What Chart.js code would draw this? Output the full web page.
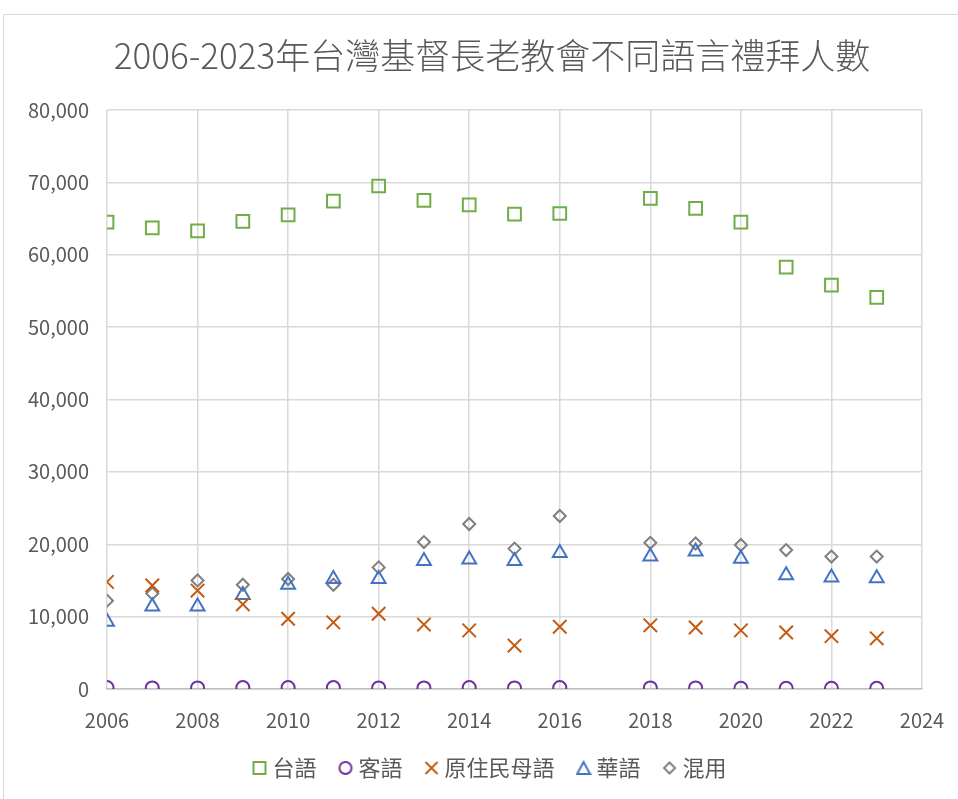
<!DOCTYPE html>
<html>
<head>
<meta charset="utf-8">
<script src="https://cdn.jsdelivr.net/npm/chart.js@4"></script>
<style>
  html, body { margin: 0; padding: 0; background: #fff; overflow: hidden; }
  #frame { position: absolute; left: 3px; top: 14px; width: 990px; height: 800px; border: 1px solid #d9d9d9; }
  #wrap { position: absolute; left: 0; top: 0; width: 984px; height: 799px; }
</style>
</head>
<body>
<div id="frame"></div>
<div id="wrap"><canvas id="chart"></canvas></div>
<script>
const years = [2006, 2007, 2008, 2009, 2010, 2011, 2012, 2013, 2014, 2015, 2016, 2018, 2019, 2020, 2021, 2022, 2023];
const taiwanese = [64500, 63700, 63300, 64600, 65500, 67400, 69500, 67500, 66900, 65600, 65700, 67800, 66400, 64500, 58300, 55800, 54100];
const hakka = [200, 150, 150, 200, 200, 200, 150, 150, 200, 150, 200, 150, 150, 100, 100, 100, 100];
const indigenous = [14800, 14300, 13600, 11700, 9700, 9200, 10400, 8900, 8100, 6000, 8600, 8800, 8500, 8100, 7800, 7300, 7000];
const mandarin = [9300, 11400, 11400, 13000, 14400, 15200, 15200, 17700, 17900, 17700, 18800, 18300, 19000, 18000, 15700, 15400, 15300];
const mixed = [12200, 13200, 15000, 14400, 15200, 14400, 16800, 20300, 22800, 19400, 23900, 20200, 20100, 19900, 19200, 18300, 18300];
const seriesNames = ["台語", "客語", "原住民母語", "華語", "混用"];
const yTicks = [0, 10000, 20000, 30000, 40000, 50000, 60000, 70000, 80000];

function pts(vals) {
  return years.map((y, i) => ({ x: y, y: vals[i] }));
}

const font = "'Noto Sans CJK TC', 'Noto Sans', sans-serif";
const textColor = "#595959";

// small marker pictures for the legend only
function legendIcon(style, color) {
  const c = document.createElement("canvas");
  c.width = 16; c.height = 16;
  const g = c.getContext("2d");
  g.strokeStyle = color;
  g.lineWidth = 2;
  g.beginPath();
  if (style === "rect") g.rect(2, 2, 12, 12);
  else if (style === "circle") g.arc(8, 8, 6, 0, Math.PI * 2);
  else if (style === "crossRot") { g.moveTo(2, 2); g.lineTo(14, 14); g.moveTo(14, 2); g.lineTo(2, 14); }
  else if (style === "triangle") { g.moveTo(8, 2); g.lineTo(14.5, 14); g.lineTo(1.5, 14); g.closePath(); }
  else if (style === "rectRot") { g.moveTo(8, 2.5); g.lineTo(13.5, 8); g.lineTo(8, 13.5); g.lineTo(2.5, 8); g.closePath(); }
  g.stroke();
  return c;
}

const ds = (label, vals, color, style, r) => ({
  label: label,
  data: pts(vals),
  pointStyle: style,
  pointRadius: r,
  pointHoverRadius: r,
  pointBorderWidth: 2,
  borderColor: color,
  backgroundColor: "rgba(0,0,0,0)",
  pointBackgroundColor: "rgba(0,0,0,0)",
  pointBorderColor: color,
  showLine: false,
  legendIcon: legendIcon(style, color)
});

const ctx = document.getElementById("chart").getContext("2d");
new Chart(ctx, {
  type: "scatter",
  data: {
    datasets: [
      ds(seriesNames[0], taiwanese, "#70ad47", "rect", 9),
      ds(seriesNames[1], hakka, "#7030a0", "circle", 6.5),
      ds(seriesNames[2], indigenous, "#c55a11", "crossRot", 9.5),
      ds(seriesNames[3], mandarin, "#4472c4", "triangle", 8),
      ds(seriesNames[4], mixed, "#7f7f7f", "rectRot", 6)
    ]
  },
  options: {
    responsive: true,
    maintainAspectRatio: false,
    animation: false,
    layout: { padding: { top: 14, right: 0, bottom: 10, left: 0 } },
    plugins: {
      title: {
        display: true,
        text: "2006-2023年台灣基督長老教會不同語言禮拜人數",
        color: textColor,
        font: { family: font, size: 35, weight: 300 },
        padding: { top: 21, bottom: 33 }
      },
      legend: {
        position: "bottom",
        labels: {
          usePointStyle: true,
          pointStyleWidth: 4,
          boxHeight: 12,
          padding: 27,
          color: textColor,
          font: { family: font, size: 22 },
          generateLabels: chart => chart.data.datasets.map((d, i) => ({
            text: d.label,
            pointStyle: d.legendIcon,
            fontColor: textColor,
            strokeStyle: d.borderColor,
            fillStyle: "rgba(0,0,0,0)",
            lineWidth: 0,
            hidden: false,
            datasetIndex: i
          }))
        }
      },
      tooltip: { enabled: false }
    },
    scales: {
      x: {
        type: "linear",
        min: 2006,
        max: 2024,
        afterFit: s => { s.height = 41; },
        ticks: {
          stepSize: 2,
          color: textColor,
          padding: 19,
          font: { family: font, size: 20 },
          callback: v => String(v)
        },
        grid: { color: "#d9d9d9", lineWidth: 1.5, drawTicks: false },
        border: { color: "#bfbfbf", width: 1.5 }
      },
      y: {
        min: 0,
        max: 80000,
        afterBuildTicks: s => { s.ticks = yTicks.map(v => ({ value: v })); },
        afterFit: s => { s.width = 107; },
        ticks: {
          color: textColor,
          padding: 18,
          font: { family: font, size: 20 },
          callback: v => v.toLocaleString("en-US")
        },
        grid: { color: "#d9d9d9", lineWidth: 1.5, drawTicks: false },
        border: { display: false }
      },
      // empty axis that only keeps the space on the right of the plot
      yRight: {
        position: "right",
        afterFit: s => { s.width = 62; },
        ticks: { display: false },
        grid: { display: false },
        border: { display: false }
      }
    }
  }
});
</script>
</body>
</html>
